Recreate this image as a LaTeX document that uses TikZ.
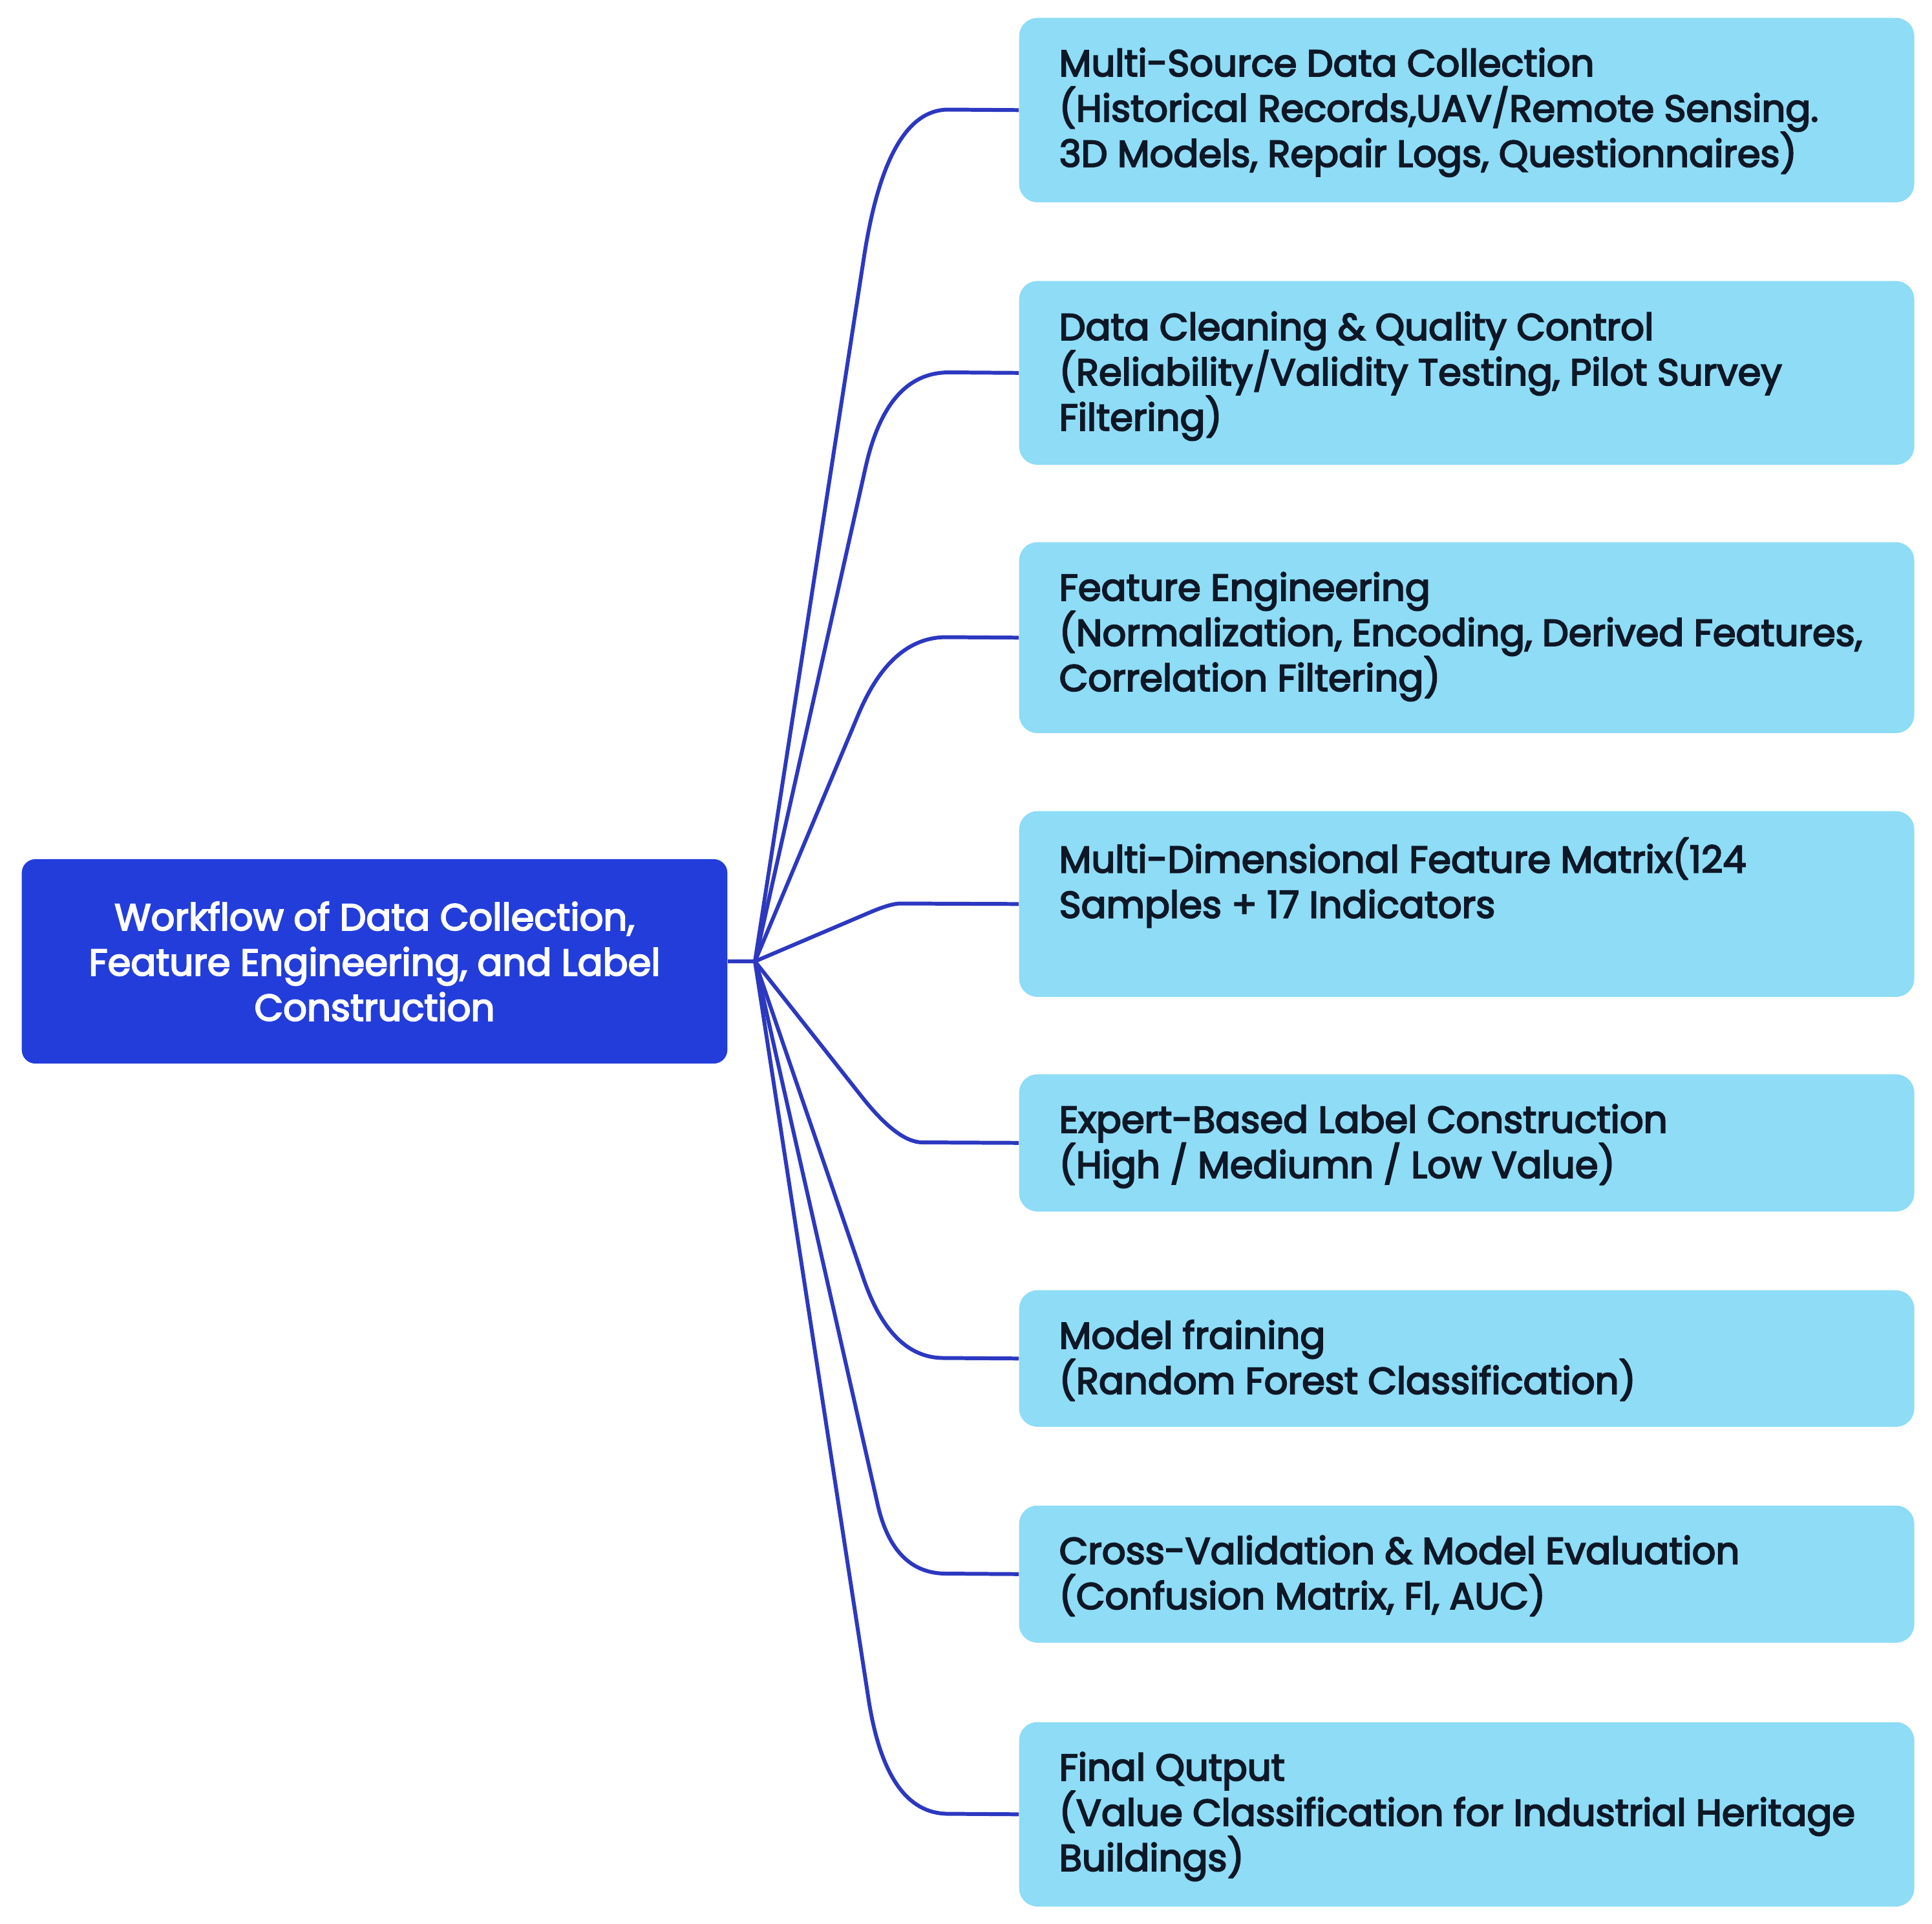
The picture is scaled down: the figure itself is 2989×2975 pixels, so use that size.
\documentclass[tikz,border=0pt]{standalone}
\usepackage{fontspec}
\usetikzlibrary{calc}
\setmainfont{Poppins}
\newfontfamily\boxfont{Poppins}[FakeBold=3.5]
\definecolor{boxblue}{HTML}{8EDCF6}
\definecolor{rootblue}{HTML}{233DDB}
\definecolor{linkblue}{HTML}{2C38C0}
\definecolor{txtdark}{HTML}{0E1726}
\tikzset{
  rootbox/.style={fill=rootblue, rounded corners=6pt, inner sep=0pt, text=white, align=center,
    font=\boxfont\fontsize{16.4pt}{19.9pt}\selectfont},
  stepbox/.style={fill=boxblue, rounded corners=8pt, inner sep=0pt, minimum width=13.84cm, anchor=north west},
  steptext/.style={anchor=north west, inner sep=0pt, align=left, text=txtdark,
    font=\boxfont\fontsize{16.4pt}{19.9pt}\selectfont},
  conn/.style={draw=linkblue, line width=1.7pt}
}
\newcommand{\fl}{\rule{0pt}{14pt}}
% #1 target node, #2 corner coordinate, #3 run before corner, #4 run after corner
\newcommand{\mylink}[4]{%
  \coordinate (cA) at ($(#2)!#3!(hub)$);
  \coordinate (cB) at ($(#2)+(#4,0)$);
  \draw[conn] (hub) -- (cA) .. controls ($(cA)!0.667!(#2)$) and ($(cB)!0.667!(#2)$) .. (cB) -- (#1.west);}
\begin{document}
\begin{tikzpicture}[x=0.01cm,y=-0.01cm]
\useasboundingbox (0,0) rectangle (2989,2975);
\node[rootbox, minimum width=10.91cm, minimum height=3.16cm] (root) at (579.5,1487)
  {Workflow of Data Collection,\\Feature Engineering, and Label\\Construction};
\coordinate (hub) at (1168,1487);
% boxes
\node[stepbox, minimum height=2.85cm] (b1) at (1576,27) {};
\node[stepbox, minimum height=2.84cm] (b2) at (1576,434) {};
\node[stepbox, minimum height=2.95cm] (b3) at (1576,838) {};
\node[stepbox, minimum height=2.87cm] (b4) at (1576,1254) {};
\node[stepbox, minimum height=2.12cm] (b5) at (1576,1661) {};
\node[stepbox, minimum height=2.11cm] (b6) at (1576,1995) {};
\node[stepbox, minimum height=2.12cm] (b7) at (1576,2328) {};
\node[stepbox, minimum height=2.85cm] (b8) at (1576,2663) {};
% connectors
\draw[conn] (root.east) -- (hub);
\mylink{b1}{1372,169.5}{2.3cm}{95}
\mylink{b2}{1372,576}{1.5cm}{96}
\mylink{b3}{1378,985.5}{1.3cm}{86}
\mylink{b4}{1378,1397.5}{0.35cm}{15}
\mylink{b5}{1389,1767}{0.9cm}{38}
\mylink{b6}{1378,2100.5}{1.3cm}{82}
\mylink{b7}{1382,2434}{1.1cm}{82}
\mylink{b8}{1371,2805.5}{1.8cm}{96}
% texts
\node[steptext] (t1) at (1638,68) {\fl Multi-Source Data Collection\\(Historical Records,UAV/Remote Sensing.\\3D Models, Repair Logs, Questionnaires)};
\node[steptext] (t2) at (1638,476) {\fl Data Cleaning \& Quality Control\\(Reliability/Validity Testing, Pilot Survey\\Filtering)};
\node[steptext] (t3) at (1638,879) {\fl Feature Engineering\\(Normalization, Encoding, Derived Features,\\Correlation Filtering)};
\node[steptext] (t4) at (1638,1295) {\fl Multi-Dimensional Feature Matrix(124\\Samples + 17 Indicators};
\node[steptext] (t5) at (1638,1702) {\fl Expert-Based Label Construction\\(High / Mediumn / Low Value)};
\node[steptext] (t6) at (1638,2036) {\fl Model fraining\\(Random Forest Classification)};
\node[steptext] (t7) at (1638,2369) {\fl Cross-Validation \& Model Evaluation\\(Confusion Matrix, Fl, AUC)};
\node[steptext] (t8) at (1638,2704) {\fl Final Qutput\\(Value Classification for Industrial Heritage\\Buildings)};
\end{tikzpicture}
\end{document}
